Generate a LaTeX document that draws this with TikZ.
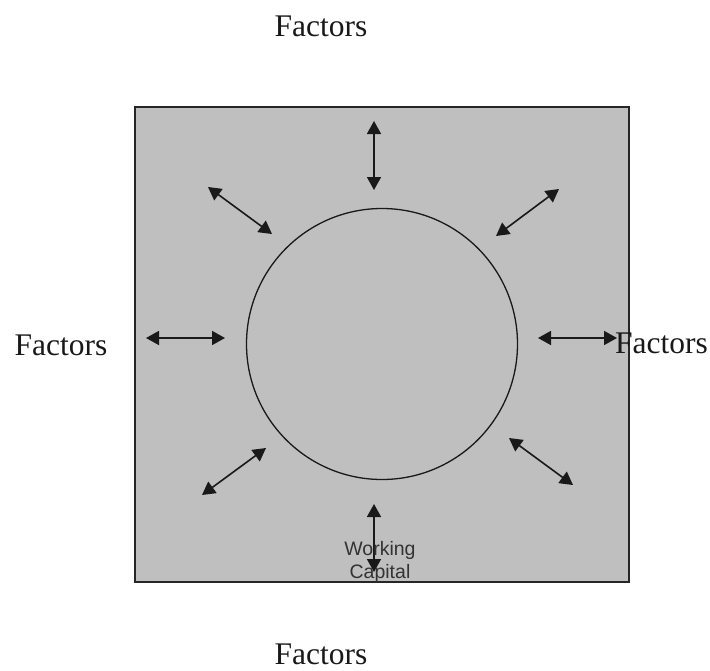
\documentclass[tikz,border=0pt]{standalone}
\usepackage{fontspec}
\setmainfont{Liberation Serif}
\newfontfamily\wcsans{Liberation Sans}
\usetikzlibrary{arrows.meta}

\tikzset{
  wcpanel/.style={draw=black!85, fill=black!25, line width=1.1pt},
  wcring/.style={circle, draw=black!90, line width=1.3pt, minimum size=271pt, inner sep=0pt},
  wcarrow/.style={line width=1.6pt, draw=black!90, {Triangle[length=13pt,width=14pt]}-{Triangle[length=13pt,width=14pt]}},
  factorlabel/.style={font=\fontsize{31.5}{36}\selectfont, text=black!90, inner sep=0pt, anchor=base},
  wclabel/.style={font=\wcsans\fontsize{19.5}{23}\selectfont, text=black!80, align=center, inner sep=0pt}
}

\begin{document}
\begin{tikzpicture}[x=1pt, y=-1pt]
\useasboundingbox (0,0) rectangle (710,670);

\draw[wcpanel] (135,107) rectangle (629,582);
\node[wcring] (core) at (382,344) {};

\coordinate (nA) at (374,121);
\coordinate (nB) at (374,190);
\coordinate (sA) at (374,504);
\coordinate (sB) at (374,572);
\coordinate (wA) at (146,338);
\coordinate (wB) at (225,338);
\coordinate (eA) at (538,338);
\coordinate (eB) at (617,338);
\coordinate (nwA) at (208,187);
\coordinate (nwB) at (272,234);
\coordinate (neA) at (559,189);
\coordinate (neB) at (496,236);
\coordinate (swA) at (202,495);
\coordinate (swB) at (266,448);
\coordinate (seA) at (509,438);
\coordinate (seB) at (573,485);

\node[factorlabel] (ftop) at (321,36) {Factors};
\node[factorlabel] (fleft) at (61,355) {Factors};
\node[factorlabel, anchor=base west] (fright) at (615,353) {Factors};
\node[factorlabel] (fbottom) at (321,664) {Factors};

\draw[wcarrow] (nA) -- (nB);
\draw[wcarrow] (sA) -- (sB);
\draw[wcarrow] (wA) -- (wB);
\draw[wcarrow] (eA) -- (eB);
\draw[wcarrow] (nwA) -- (nwB);
\draw[wcarrow] (neA) -- (neB);
\draw[wcarrow] (swA) -- (swB);
\draw[wcarrow] (seA) -- (seB);

\node[wclabel, anchor=base] (wcap) at (380,578) {Working\\Capital};
\end{tikzpicture}
\end{document}
